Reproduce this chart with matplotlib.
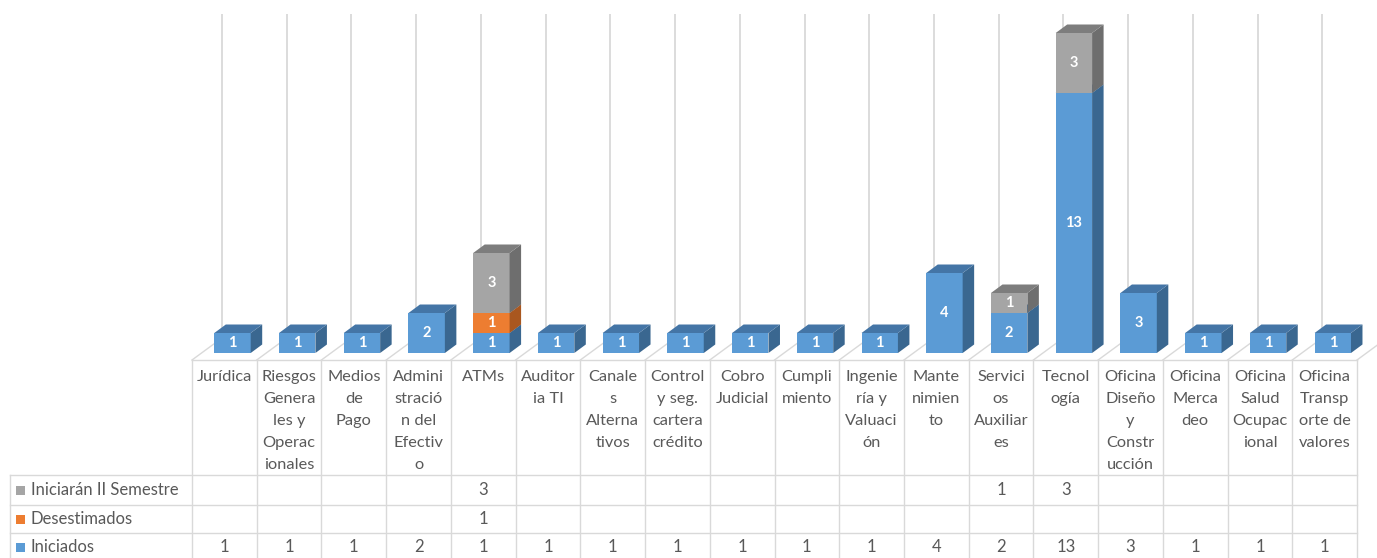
import matplotlib
matplotlib.use("Agg")
import matplotlib.pyplot as plt
from matplotlib.patches import Rectangle, Polygon
import numpy as np

plt.rcParams['font.family'] = ['Lato', 'DejaVu Sans']

# ---------------- data ----------------
categories = [
    ["Jurídica"],
    ["Riesgos", "Genera", "les y", "Operac", "ionales"],
    ["Medios", "de", "Pago"],
    ["Admini", "stració", "n del", "Efectiv", "o"],
    ["ATMs"],
    ["Auditor", "ia TI"],
    ["Canale", "s", "Alterna", "tivos"],
    ["Control", "y seg.", "cartera", "crédito"],
    ["Cobro", "Judicial"],
    ["Cumpli", "miento"],
    ["Ingenie", "ría y", "Valuaci", "ón"],
    ["Mante", "nimien", "to"],
    ["Servici", "os", "Auxiliar", "es"],
    ["Tecnol", "ogía"],
    ["Oficina", "Diseño", "y", "Constr", "ucción"],
    ["Oficina", "Merca", "deo"],
    ["Oficina", "Salud", "Ocupac", "ional"],
    ["Oficina", "Transp", "orte de", "valores"],
]
iniciados     = [1, 1, 1, 2, 1, 1, 1, 1, 1, 1, 1, 4, 2, 13, 3, 1, 1, 1]
desestimados  = [0, 0, 0, 0, 1, 0, 0, 0, 0, 0, 0, 0, 0, 0, 0, 0, 0, 0]
iniciaran     = [0, 0, 0, 0, 3, 0, 0, 0, 0, 0, 0, 0, 1, 3, 0, 0, 0, 0]
series_names  = ["Iniciados", "Desestimados", "Iniciarán II Semestre"]

# ---------------- style ----------------
colors = ["#5B9BD5", "#ED7D31", "#A5A5A5"]
side_colors = ["#3A6790", "#A9571F", "#6E6E6E"]
top_colors = ["#4475A6", "#C0632A", "#7D7D7D"]
grid_c = "#D9D9D9"
text_c = "#595959"

W, H = 1377, 558
fig = plt.figure(figsize=(W / 100, H / 100), dpi=100)

# layout constants (pixels)
X0 = 192.0          # left of first category column
PX = (1357.0 - 192.0) / 18   # px per category
PY = 20.0           # px per value unit
Y0 = 353.0          # pixel row of value 0 on bar front
n = len(categories)

# chart axes in category / value units
ax = fig.add_axes([0, 0, 1, 1])
ax.set_xlim(-X0 / PX, (W - X0) / PX)
ax.set_ylim(-(H - Y0) / PY, Y0 / PY)
ax.axis("off")

depth_x = 30.0 / PX
floor_front = (Y0 - 360.0) / PY
floor_back = (Y0 - 338.0) / PY
wall_top = (Y0 - 14.0) / PY

# back wall vertical gridlines and floor diagonals
for i in range(n + 1):
    ax.plot([i + depth_x, i + depth_x], [floor_back, wall_top], color=grid_c, lw=1.3, zorder=1, solid_capstyle='butt')
    ax.plot([i, i + depth_x], [floor_front, floor_back], color=grid_c, lw=1.0, zorder=1)

# 3D stacked bars
bx0 = (214.3 - X0) / PX
bw = 36.4 / PX
ddx = 11.5 / PX
ddy = 8.5 / PY
cum = np.zeros(n)
for s, vals in enumerate([iniciados, desestimados, iniciaran]):
    for i, v in enumerate(vals):
        if v == 0:
            continue
        x0 = i + bx0
        x1 = x0 + bw
        y0 = cum[i]
        y1 = y0 + v
        z = 3 + s
        ax.add_patch(Rectangle((x0, y0), bw, v, facecolor=colors[s], edgecolor='none', zorder=z))
        ax.add_patch(Polygon([(x1, y0), (x1 + ddx, y0 + ddy), (x1 + ddx, y1 + ddy), (x1, y1)],
                             closed=True, facecolor=side_colors[s], edgecolor='none', zorder=z))
        ax.add_patch(Polygon([(x0, y1), (x1, y1), (x1 + ddx, y1 + ddy), (x0 + ddx, y1 + ddy)],
                             closed=True, facecolor=top_colors[s], edgecolor='none', zorder=z))
        ax.text(x0 + bw / 2, (y0 + y1) / 2, str(v), color="white", fontsize=10.5,
                fontweight='bold', ha='center', va='center', zorder=10)
    cum += np.array(vals)

# ---------------- data table (pixel units) ----------------
tab = fig.add_axes([0, 0, 1, 1], facecolor='none')
tab.set_xlim(0, W)
tab.set_ylim(H, 0)
tab.axis("off")

top_y = 360.0
row_lines = [475.0, 505.0, 533.0]
bottom_y = 562.0
left_x = 10.0

tab.plot([X0, X0 + PX * n], [top_y, top_y], color=grid_c, lw=1)
for yl in row_lines:
    tab.plot([left_x, X0 + PX * n], [yl, yl], color=grid_c, lw=1)
tab.plot([left_x, left_x], [row_lines[0], bottom_y], color=grid_c, lw=1)
for i in range(n + 1):
    tab.plot([X0 + PX * i, X0 + PX * i], [top_y, bottom_y], color=grid_c, lw=1)

# category header text
for i, lines in enumerate(categories):
    cx = X0 + PX * (i + 0.5)
    for k, ln in enumerate(lines):
        tab.text(cx, 377 + 22 * k, ln, ha='center', va='center', fontsize=11.8, color=text_c)

# rows: top row = last series
row_centers = [547.5, 519.0, 490.0]
for s, vals in enumerate([iniciados, desestimados, iniciaran]):
    yc = row_centers[s]
    tab.add_patch(Rectangle((16, yc - 4.5), 9, 9, facecolor=colors[s], edgecolor='none'))
    tab.text(31, yc, series_names[s], ha='left', va='center', fontsize=12, color=text_c)
    for i, v in enumerate(vals):
        if v == 0:
            continue
        tab.text(X0 + PX * (i + 0.5), yc, str(v), ha='center', va='center', fontsize=12, color=text_c)

fig.savefig("out.png", dpi=100, facecolor="white")
